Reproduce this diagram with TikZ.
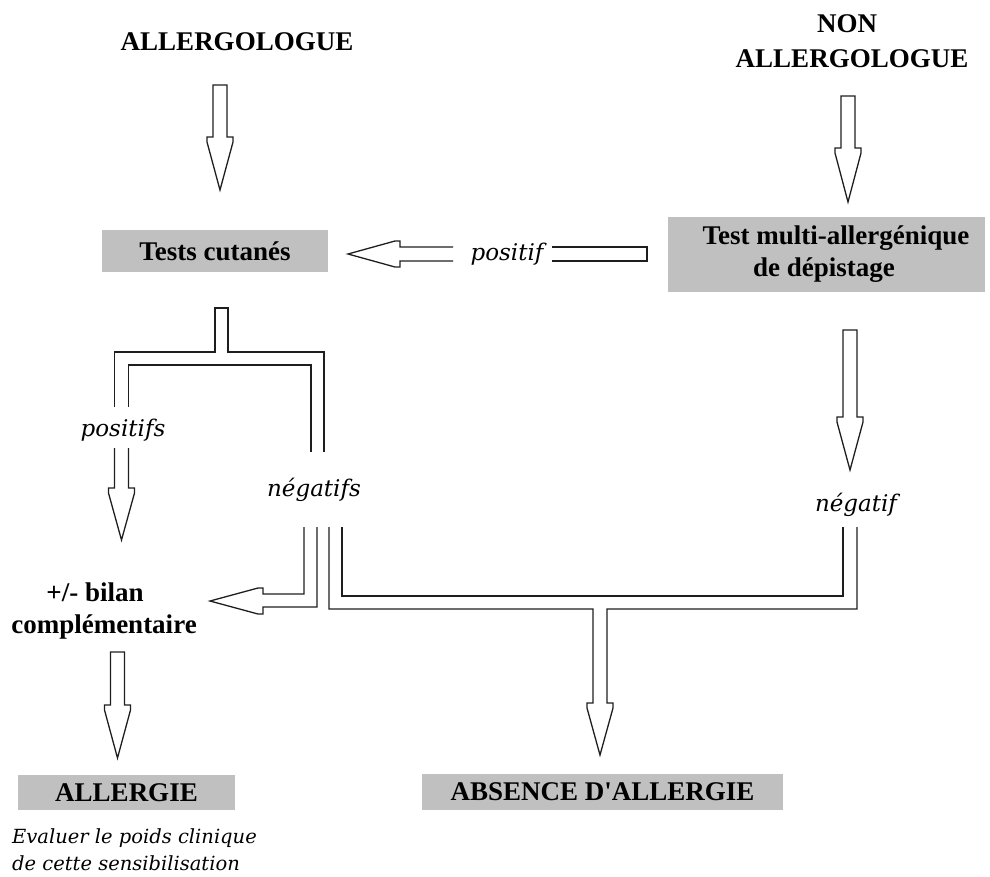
\documentclass[tikz,border=0pt]{standalone}
\usepackage{fontspec}
\setmainfont{Liberation Serif}
\newfontfamily\labfont{DejaVu Serif}
\definecolor{boxgray}{RGB}{192,192,192}
\definecolor{linec}{RGB}{30,30,30}
\newcommand\arrowdownclosed[4]{\draw[pipe] ({#1-7},{#2}) -- ({#1-7},{#3}) -- ({#1-13},{#3}) -- ({#1-13},{#3+5}) -- (#1,#4) -- ({#1+13},{#3+5}) -- ({#1+13},{#3}) -- ({#1+7},{#3}) -- ({#1+7},{#2}) -- cycle;}
\newcommand\arrowdownopen[4]{\draw[pipe] ({#1-7},{#2}) -- ({#1-7},{#3}) -- ({#1-13},{#3}) -- ({#1-13},{#3+5}) -- (#1,#4) -- ({#1+13},{#3+5}) -- ({#1+13},{#3}) -- ({#1+7},{#3}) -- ({#1+7},{#2});}
\begin{document}
\begin{tikzpicture}[x=1pt,y=-1pt,
  bigtxt/.style={font=\bfseries\fontsize{27}{32}\selectfont, inner sep=0pt, align=center},
  graybox/.style={bigtxt, fill=boxgray},
  lab/.style={font=\labfont\itshape\fontsize{23}{28}\selectfont, inner sep=0pt},
  pipe/.style={draw=linec, line width=1.3pt, line join=miter}]
\useasboundingbox (0,0) rectangle (990,876);

% texts and boxes
\node[bigtxt] (allergo) at (237,42) {ALLERGOLOGUE};
\node[bigtxt, font=\bfseries\fontsize{27}{35}\selectfont] (nonallergo) at (852,41.5) {NON\hspace*{10pt}\\ALLERGOLOGUE};
\node[graybox, minimum width=226pt, minimum height=42pt] (tests) at (215,251) {Tests cutanés};
\node[graybox, minimum width=317pt, minimum height=75pt] (multi) at (826.5,254.5) {\hspace*{19pt}Test multi-allergénique\\de dépistage\hspace*{5pt}};
\node[bigtxt] (bilan) at (104,611) {+/- bilan\hspace*{18pt}\\complémentaire};
\node[graybox, minimum width=217pt, minimum height=35pt] (allergie) at (126.5,792.5) {ALLERGIE};
\node[graybox, minimum width=361pt, minimum height=36pt] (absence) at (602.5,792) {ABSENCE D\textquotesingle ALLERGIE};
\node[font=\labfont\itshape\fontsize{19.5}{27}\selectfont, inner sep=0pt, align=left, anchor=west] (eval) at (12,850) {Evaluer le poids clinique\\de cette sensibilisation};

% labels
\node[lab] (lpositif) at (507,254) {positif};
\node[lab] (lpositifs) at (123,430) {positifs};
\node[lab] (lnegatifs) at (314,490) {négatifs};
\node[lab] (lnegatif) at (856,505) {négatif};

% simple down arrows
\arrowdownclosed{220}{85}{137}{190}
\arrowdownclosed{848}{96}{148}{202}
\arrowdownclosed{850}{330}{417}{470}
\arrowdownclosed{117.5}{652}{705}{758}
\arrowdownopen{121.5}{448}{488}{540}

% positif arrow (right to left)
\draw[pipe] (453,247) -- (400,247) -- (400,241) -- (395,241) -- (348,254) -- (395,267) -- (400,267) -- (400,261) -- (453,261);
\draw[pipe] (552,247) -- (647,247) -- (647,261) -- (552,261);

% branch below Tests cutanes
\draw[pipe] (114.5,407) -- (114.5,352) -- (215,352) -- (215,308) -- (228,308) -- (228,352) -- (324,352) -- (324,452);
\draw[pipe] (128.5,407) -- (128.5,365) -- (311,365) -- (311,452);

% negatifs to bilan (left arrow)
\draw[pipe] (304,527) -- (304,594) -- (263,594) -- (263,588) -- (258,588) -- (210,601) -- (258,614) -- (263,614) -- (263,607) -- (317,607) -- (317,527);

% junction to absence d'allergie
\draw[pipe] (329,527) -- (329,609) -- (593,609) -- (593,703) -- (587,703) -- (587,708) -- (600,755) -- (613,708) -- (613,703) -- (607,703) -- (607,609) -- (857,609) -- (857,527);
\draw[pipe] (342,527) -- (342,596) -- (843,596) -- (843,527);
\end{tikzpicture}
\end{document}
